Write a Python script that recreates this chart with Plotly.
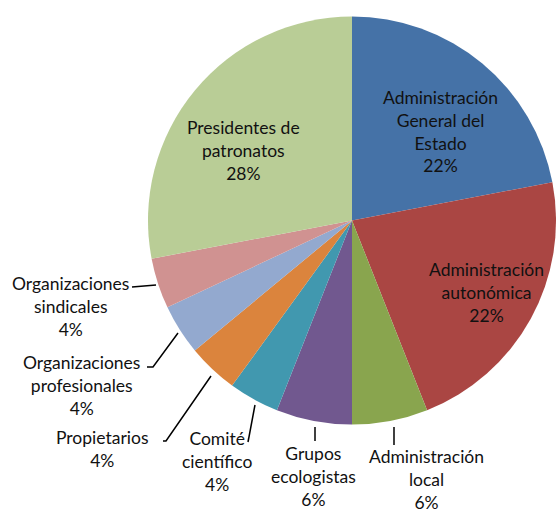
import plotly.graph_objects as go

# Composición (%) por grupo, en el orden de las agujas del reloj desde las 12
categorias = [
    "Administración General del Estado",
    "Administración autonómica",
    "Administración local",
    "Grupos ecologistas",
    "Comité científico",
    "Propietarios",
    "Organizaciones profesionales",
    "Organizaciones sindicales",
    "Presidentes de patronatos",
]
porcentajes = [22, 22, 6, 6, 4, 4, 4, 4, 28]
etiquetas = [
    "Administración<br>General del<br>Estado",
    "Administración<br>autonómica",
    "Administración<br>local",
    "Grupos<br>ecologistas",
    "Comité<br>científico",
    "Propietarios",
    "Organizaciones<br>profesionales",
    "Organizaciones<br>sindicales",
    "Presidentes de<br>patronatos",
]
colores = ["#4572A7", "#AA4643", "#89A54E", "#71588F", "#4198AF",
           "#DB843D", "#93A9CF", "#D09291", "#B9CD96"]

W, H = 556, 514


def px(x, y):
    """pixel -> paper coords"""
    return x / W, 1 - y / H


# label centre positions (pixels), same order as categorias
pos_etiquetas = [(440, 131), (486, 292), (426, 479), (313, 476), (217, 461),
                 (103, 449), (81, 385), (70, 306), (243, 150)]

# leader lines for the small slices (pixels)
lineas = [
    [(394, 427), (394, 445)],
    [(315, 427), (315, 441)],
    [(255, 405), (248, 442)],
    [(163, 441), (166, 441), (211, 376)],
    [(147, 367), (153, 367), (178, 333)],
    [(132, 287), (156, 285)],
]

fig = go.Figure(go.Pie(
    labels=categorias,
    values=porcentajes,
    sort=False,
    direction="clockwise",
    rotation=0,
    textinfo="none",
    hoverinfo="skip",
    marker=dict(colors=colores, line=dict(width=0)),
    domain=dict(x=[148 / W, 1.0], y=[1 - 424.5 / H, 1 - 16.5 / H]),
    showlegend=False,
))

for texto, valor, (x, y) in zip(etiquetas, porcentajes, pos_etiquetas):
    ax, ay = px(x, y)
    fig.add_annotation(
        text=f"{texto}<br>{valor}%",
        x=ax, y=ay, xref="paper", yref="paper",
        xanchor="center", yanchor="middle",
        showarrow=False, align="center", borderpad=0,
        font=dict(family="Lato", size=17.5, color="#111111"),
    )

for pts in lineas:
    path = "M " + " L ".join(f"{px(x, y)[0]:.5f},{px(x, y)[1]:.5f}" for x, y in pts)
    fig.add_shape(type="path", path=path, xref="paper", yref="paper",
                  line=dict(color="black", width=1.5))

fig.update_layout(
    width=W, height=H,
    margin=dict(l=0, r=0, t=0, b=0),
    paper_bgcolor="white",
    plot_bgcolor="white",
)
# drop the default 8px body margin so the figure fills the window
fig.write_html("out.html", config={"displayModeBar": False},
               post_script="document.body.style.margin='0';"
               "document.body.style.overflow='hidden';")
